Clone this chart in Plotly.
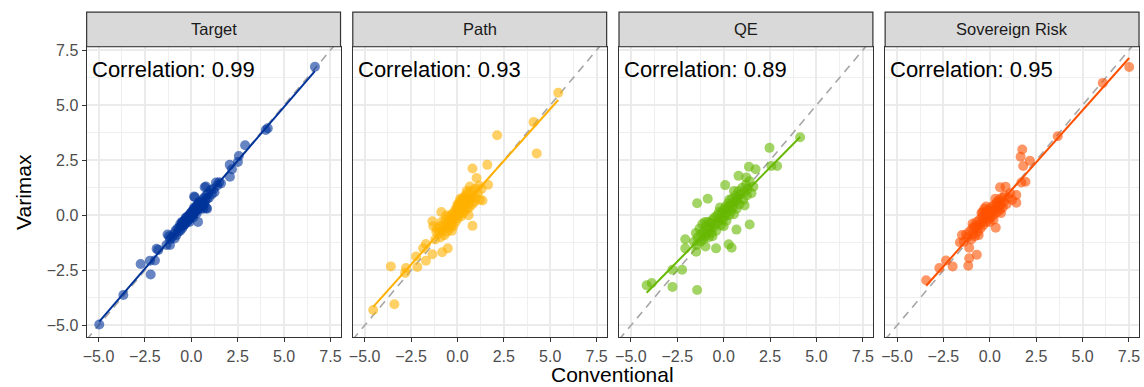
import numpy as np
import plotly.graph_objects as go

panels = ["Target", "Path", "QE", "Sovereign Risk"]
corr_labels = ["Correlation: 0.99", "Correlation: 0.93", "Correlation: 0.89", "Correlation: 0.95"]
colors = ["#003399", "#FFB000", "#66B800", "#FF5000"]
tick_vals = [-5.0, -2.5, 0.0, 2.5, 5.0, 7.5]

target_x = [6.66, 4.01, 4.12, 2.90, 2.56, 2.51, 2.07, 2.19, 2.08, 1.33, 0.79, 0.19, 0.36, 0.81, -1.28, -1.34,
            -1.78, -1.96, -2.23, -2.73, -2.19, -3.66, -4.96, 0.72, 0.15, 0.85, -1.15, -1.87,
            -1.05, -0.95, -0.9, -0.85, -0.8, -0.75, -0.7, -0.65, -0.6, -0.55, -0.5, -0.48, -0.45, -0.42, -0.4,
            -0.38, -0.35, -0.32, -0.3, -0.28, -0.25, -0.22, -0.2, -0.18, -0.15, -0.12, -0.1, -0.08, -0.05, -0.02,
            0.0, 0.02, 0.05, 0.08, 0.1, 0.12, 0.15, 0.18, 0.2, 0.22, 0.25, 0.28, 0.3, 0.32, 0.35, 0.38, 0.4,
            0.42, 0.45, 0.5, 0.55, 0.6, 0.65, 0.7, 0.75, 0.8, 0.85, 0.9, 0.95, 1.05, 1.1, 1.2, 1.25, 1.4, 1.5,
            1.6, -1.15, -1.2, -0.6, -0.3, 0.0, 0.3, 0.5, 0.4, -0.1, 0.15, 0.6, 0.7, -0.5, 0.1, 0.65]
target_y = [6.74, 3.87, 3.95, 3.18, 2.69, 2.42, 2.29, 2.09, 1.75, 1.49, 1.31, 0.82, -0.30, 0.33, -0.87, -1.35,
            -1.57, -2.05, -2.06, -2.21, -2.69, -3.62, -4.96, 1.27, 0.85, 0.30, -1.35, -1.52,
            -1.0, -0.85, -1.05, -0.7, -0.9, -0.6, -0.75, -0.55, -0.7, -0.45, -0.6, -0.35, -0.5, -0.3, -0.45,
            -0.25, -0.4, -0.2, -0.35, -0.15, -0.3, -0.1, -0.25, -0.05, -0.2, 0.0, -0.15, 0.05, -0.1, 0.1,
            -0.05, 0.15, 0.0, 0.2, 0.05, 0.25, 0.1, 0.3, 0.15, 0.35, 0.2, 0.4, 0.25, 0.45, 0.3, 0.5, 0.35,
            0.55, 0.4, 0.6, 0.45, 0.7, 0.55, 0.8, 0.65, 0.9, 0.75, 1.0, 0.8, 1.15, 0.95, 1.2, 1.05, 1.35, 1.5,
            1.45, -1.1, -0.95, -0.4, -0.1, 0.1, 0.1, 0.3, 0.6, -0.3, 0.35, 0.4, 0.5, -0.3, -0.1, 0.3]

path_x = [5.43, 4.10, 2.14, 4.27, 1.61, 0.81, 1.03, 1.65, 1.17, 0.67, 1.35, 0.81, -0.87, -1.35, -1.14, -1.70,
          -1.85, -0.52, -0.82, -1.35, -2.23, -1.70, -2.16, -2.77, -3.59, -2.82, -3.40, -4.54,
          -1.0, -0.95, -0.9, -0.85, -0.8, -0.75, -0.7, -0.65, -0.6, -0.55, -0.5, -0.45, -0.42, -0.4, -0.35,
          -0.32, -0.3, -0.25, -0.22, -0.2, -0.15, -0.12, -0.1, -0.05, -0.02, 0.0, 0.02, 0.05, 0.08, 0.1, 0.12,
          0.15, 0.18, 0.2, 0.22, 0.25, 0.28, 0.3, 0.32, 0.35, 0.38, 0.4, 0.42, 0.45, 0.5, 0.52, 0.55, 0.6,
          0.62, 0.65, 0.7, 0.75, 0.8, 0.85, 0.9, 0.95, 1.0, 1.1, 1.2, 1.3, -1.1, -1.2, -1.3, -0.6, 0.3, 0.0,
          0.15, -0.3, 0.6, 0.5]
path_y = [5.56, 4.23, 3.63, 2.81, 2.29, 2.12, 1.69, 1.39, 1.35, 1.31, 0.67, -0.48, 0.15, -0.27, -0.75, -1.30,
          -1.50, -1.50, -1.68, -1.77, -1.87, -2.06, -2.35, -2.39, -2.32, -2.62, -4.04, -4.30,
          -0.8, -0.5, -1.0, -0.3, -0.7, -0.45, -0.9, -0.2, -0.55, -0.75, -0.3, -0.05, -0.6, -0.35, -0.15,
          -0.45, 0.05, -0.25, -0.5, 0.1, -0.1, 0.25, -0.3, 0.05, 0.35, -0.15, 0.2, 0.45, 0.0, 0.3, 0.6,
          0.15, 0.4, -0.05, 0.7, 0.3, 0.5, 0.1, 0.8, 0.4, 0.6, 0.2, 0.9, 0.5, 0.7, 0.3, 1.0, 0.55,
          0.8, 0.35, 0.7, 1.1, 0.5, 0.9, 0.6, 1.2, 0.8, 1.0, 0.7, 1.2, -0.6, -1.1, -0.5, 0.0, 0.65, 0.5,
          0.75, -0.7, 0.0, 1.1]

qe_x = [4.12, 2.47, 2.57, 2.88, 1.36, 1.72, 0.80, 1.22, 0.08, -0.86, -1.43, 1.13, 1.40, 0.69, -2.07, -2.07,
        -1.48, -0.41, 0.27, 0.43, -0.98, -2.76, -2.24, -2.76, -3.88, -4.15, -1.43, 0.71,
        -1.6, -1.5, -1.45, -1.4, -1.3, -1.25, -1.2, -1.15, -1.1, -1.05, -1.0, -0.95, -0.9, -0.85, -0.8,
        -0.75, -0.7, -0.65, -0.6, -0.55, -0.5, -0.45, -0.4, -0.35, -0.3, -0.25, -0.2, -0.15, -0.1, -0.05,
        0.0, 0.05, 0.1, 0.12, 0.15, 0.2, 0.25, 0.3, 0.35, 0.4, 0.45, 0.5, 0.55, 0.6, 0.65, 0.7, 0.75, 0.8,
        0.85, 0.9, 1.0, 1.05, 1.1, 1.2, 1.25, 1.3, 1.4, 1.5, 0.0, -0.2, 0.3, -0.6, 0.55, -1.0, 1.6]
qe_y = [3.54, 3.06, 2.24, 2.24, 2.20, 2.09, 1.79, 1.72, 1.37, 0.75, 0.55, 0.45, -0.42, -0.65, -1.09, -1.50,
        -1.65, -1.50, -1.32, -1.47, -1.42, -2.47, -2.47, -3.25, -3.07, -3.18, -3.39, 0.67,
        -1.2, -0.8, -1.35, -1.0, -0.6, -1.2, -0.85, -0.4, -1.1, -0.7, -0.95, -0.5, -0.8, -0.3, -1.0,
        -0.6, -0.35, -0.8, -0.2, -0.55, -0.1, -0.4, -0.7, 0.0, -0.3, 0.15, -0.15, -0.45, 0.1, -0.2,
        0.25, -0.05, 0.4, 0.1, -0.25, 0.3, 0.55, 0.0, 0.45, 0.2, 0.75, 0.35, 0.05, 0.6, 0.9, 0.3, 0.75, 1.1,
        0.5, 0.95, 1.25, 0.7, 1.05, 1.4, 0.9, 1.2, 1.55, 1.0, -0.5, 0.35, 0.7, -0.95, 1.1, -0.3, 1.3]

sov_x = [7.51, 6.09, 3.66, 1.75, 1.66, 2.16, 1.80, 1.70, 1.92, 0.55, 0.85, 1.43, 1.43, 0.32, -0.39, -0.93,
         -1.29, -1.61, -1.11, -0.70, -1.11, -1.16, -2.00, -2.36, -2.72, -3.43,
         -1.2, -1.1, -1.0, -0.95, -0.9, -0.85, -0.8, -0.75, -0.7, -0.65, -0.6, -0.55, -0.5, -0.45, -0.4,
         -0.35, -0.3, -0.25, -0.2, -0.15, -0.1, -0.05, 0.0, 0.05, 0.1, 0.15, 0.2, 0.25, 0.3, 0.35, 0.4,
         0.45, 0.5, 0.55, 0.6, 0.65, 0.7, 0.75, 0.8, 0.9, 1.0, 1.1, 1.2, -1.4, -1.5, -0.3, 0.2, -0.6, 0.0,
         0.4, -0.2, 0.6, -0.45, 0.3]
sov_y = [6.73, 6.01, 3.59, 2.99, 2.66, 2.47, 2.24, 1.49, 1.52, 1.27, 1.30, 0.92, 0.57, -0.56, 0.15, -0.38,
         -0.87, -1.23, -1.47, -1.79, -1.95, -2.29, -2.32, -2.05, -2.39, -2.95,
         -1.0, -0.75, -1.1, -0.6, -0.85, -0.5, -0.95, -0.55, -0.3, -0.75, -0.45, -0.2, -0.6, -0.35, -0.05,
         -0.45, -0.2, 0.1, -0.3, 0.0, 0.25, -0.15, 0.1, 0.35, -0.05, 0.2, 0.45, 0.05, 0.3, 0.55, 0.15,
         0.4, 0.7, 0.25, 0.5, 0.8, 0.35, 0.6, 0.9, 0.5, 0.8, 1.0, 0.7, -1.2, -0.9, 0.3, -0.2, -0.9, -0.3,
         0.6, 0.4, 0.1, 0.1, 0.75]

xs = [target_x, path_x, qe_x, sov_x]
ys = [target_y, path_y, qe_y, sov_y]

W, H = 1144, 387
x_range = [-5.64, 8.04]
y_range = [-5.54, 7.65]
panel_left_px = [83, 350.3, 617.7, 885]
panel_w_px = 255
plot_top_px, plot_bot_px = 42.3, 336.7
strip_top_px = 7.3

FONT = "Liberation Sans, Arial, sans-serif"
fig = go.Figure()
ydom = [1 - plot_bot_px / H, 1 - plot_top_px / H]

for i in range(4):
    n = "" if i == 0 else str(i + 1)
    xa, ya = "x" + n, "y" + n
    x = np.array(xs[i]); y = np.array(ys[i])
    # identity dashed line
    fig.add_trace(go.Scatter(x=x_range, y=x_range, mode="lines", xaxis=xa, yaxis=ya,
                             line=dict(color="#A6A6A6", width=1.6, dash="8px,6px"), hoverinfo="skip", showlegend=False))
    fig.add_trace(go.Scatter(x=x, y=y, mode="markers", xaxis=xa, yaxis=ya,
                             marker=dict(color=colors[i], size=10, opacity=0.6, line=dict(width=0)),
                             showlegend=False))
    b, a = np.polyfit(x, y, 1)
    lx = np.array([x.min(), x.max()])
    fig.add_trace(go.Scatter(x=lx, y=a + b * lx, mode="lines", xaxis=xa, yaxis=ya,
                             line=dict(color=colors[i], width=2), showlegend=False))
    dom = [panel_left_px[i] / W, (panel_left_px[i] + panel_w_px) / W]
    common = dict(showline=True, mirror=True, linecolor="#333333", linewidth=1.2,
                  showgrid=True, gridcolor="#EBEBEB", gridwidth=1.6, zeroline=False,
                  tickvals=tick_vals, tickformat=".1f",
                  minor=dict(dtick=1.25, tick0=0, showgrid=True, gridcolor="#EFEFEF", gridwidth=0.8, ticks=""),
                  tickfont=dict(family=FONT, size=16, color="#4D4D4D"))
    fig.layout["xaxis" + n] = dict(domain=dom, range=x_range, anchor=ya, ticks="outside", ticklen=4,
                                   tickcolor="#333333", tickwidth=1.2, **common)
    yax = dict(domain=ydom, range=y_range, anchor=xa, **common)
    if i == 0:
        yax.update(ticks="outside", ticklen=4, tickcolor="#333333", tickwidth=1.2)
    else:
        yax.update(showticklabels=False, ticks="")
    fig.layout["yaxis" + n] = yax
    # strip
    fig.add_shape(type="rect", xref="paper", yref="paper", x0=dom[0], x1=dom[1],
                  y0=1 - plot_top_px / H, y1=1 - strip_top_px / H,
                  fillcolor="#D9D9D9", line=dict(color="#333333", width=1.2), layer="above")
    fig.add_annotation(xref="paper", yref="paper", x=(dom[0] + dom[1]) / 2,
                       y=1 - (plot_top_px + strip_top_px) / 2 / H, text=panels[i], showarrow=False,
                       xanchor="center", yanchor="middle", font=dict(family=FONT, size=16.5, color="#1A1A1A"))
    fig.add_annotation(xref=xa, yref=ya, x=-5.0, y=6.6, xshift=-9, text=corr_labels[i], showarrow=False,
                       xanchor="left", yanchor="middle", font=dict(family=FONT, size=22, color="black"))

fig.add_annotation(xref="paper", yref="paper", x=(83 + 1140) / 2 / W, y=1 - 374.5 / H, text="Conventional",
                   showarrow=False, xanchor="center", yanchor="middle", font=dict(family=FONT, size=21, color="black"))
fig.add_annotation(xref="paper", yref="paper", x=19 / W, y=1 - 189.5 / H, text="Varimax", textangle=-90,
                   showarrow=False, xanchor="center", yanchor="middle", font=dict(family=FONT, size=21, color="black"))

fig.update_layout(width=W, height=H, margin=dict(l=0, r=0, t=0, b=0), plot_bgcolor="white",
                  paper_bgcolor="white", showlegend=False)
fig.write_html("out.html")
